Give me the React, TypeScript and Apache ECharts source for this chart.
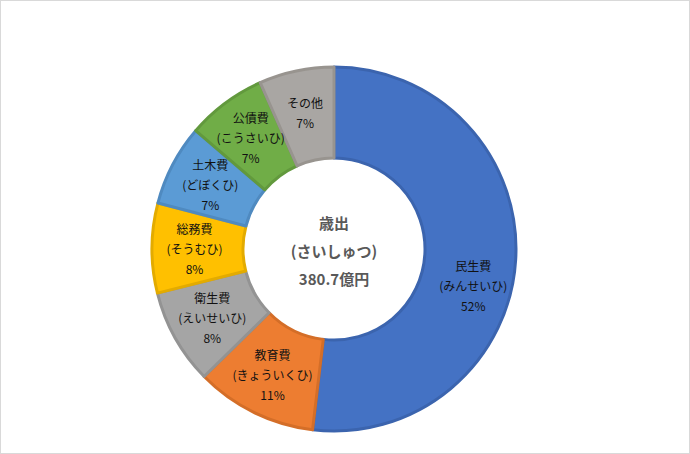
import { useEffect, useRef } from "react";
import * as echarts from "echarts";

// 歳出の内訳（億円）
const CATEGORIES = ["民生費", "教育費", "衛生費", "総務費", "土木費", "公債費", "その他"];
const READINGS = ["(みんせいひ)", "(きょういくひ)", "(えいせいひ)", "(そうむひ)", "(どぼくひ)", "(こうさいひ)", ""];
const VALUES = [197.5, 41.0, 32.2, 30.3, 27.4, 27.0, 25.3];
const CENTER_LINES = ["歳出", "(さいしゅつ)", "380.7億円"];

const FILLS = ["#4472C4", "#ED7D31", "#A5A5A5", "#FFC000", "#5B9BD5", "#70AD47", "#A9A6A3"];
const BORDERS = ["#3B64AE", "#D46E28", "#939393", "#E3AB00", "#4F8AC0", "#62993D", "#98948F"];

const FONT = '"Noto Sans CJK JP", "Noto Sans", sans-serif';

export default function App() {
  const chartRef = useRef<HTMLDivElement>(null);

  useEffect(() => {
    document.body.style.margin = "0";
    if (!chartRef.current) return;
    const chart = echarts.init(chartRef.current, null, { renderer: "svg" });

    chart.setOption({
      animation: false,
      backgroundColor: "#fff",
      graphic: [
        {
          type: "text",
          x: 334,
          y: 250,
          style: {
            text: CENTER_LINES.join("\n"),
            align: "center",
            verticalAlign: "middle",
            fill: "#595959",
            font: `bold 15px ${FONT}`,
            lineHeight: 28,
          },
        },
      ],
      series: [
        {
          type: "pie",
          center: [334, 249],
          radius: [91, 182],
          startAngle: 90,
          clockwise: true,
          avoidLabelOverlap: false,
          label: {
            show: true,
            position: "inside",
            color: "#111",
            fontSize: 12,
            fontFamily: FONT,
            lineHeight: 20,
            formatter: (p: any) => {
              const reading = READINGS[p.dataIndex];
              const pct = `${Math.round(p.percent)}%`;
              return reading ? `${p.name}\n${reading}\n${pct}` : `${p.name}\n${pct}`;
            },
          },
          labelLine: { show: false },
          labelLayout: (p: any) => (p.dataIndex === 0 ? { dy: 28 } : {}),
          emphasis: { disabled: true },
          data: CATEGORIES.map((name, i) => ({
            name,
            value: VALUES[i],
            itemStyle: {
              color: FILLS[i],
              borderColor: BORDERS[i],
              borderWidth: 3,
            },
          })),
        },
      ],
    });

    return () => chart.dispose();
  }, []);

  return (
    <div
      style={{
        position: "relative",
        width: "690px",
        height: "454px",
        boxSizing: "border-box",
        border: "1px solid #d9d9d9",
        background: "#fff",
      }}
    >
      <div
        ref={chartRef}
        style={{ position: "absolute", left: "-1px", top: "-1px", width: "690px", height: "454px" }}
      />
      <div
        style={{
          position: "absolute",
          inset: "-1px",
          border: "1px solid #d9d9d9",
          pointerEvents: "none",
        }}
      />
    </div>
  );
}
